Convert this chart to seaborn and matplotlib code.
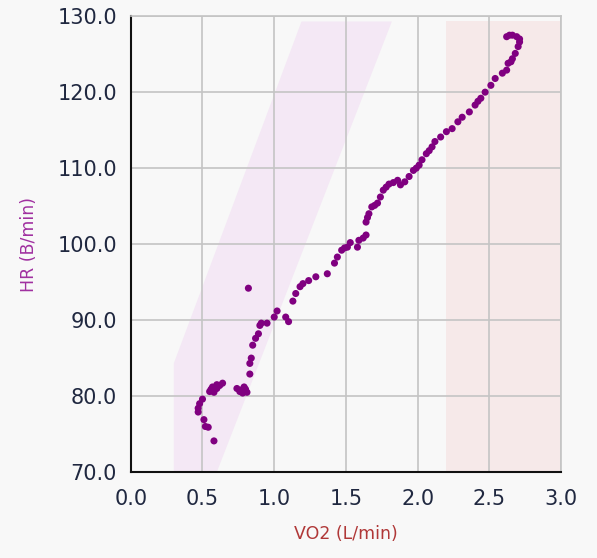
import matplotlib
matplotlib.use("Agg")
import matplotlib.pyplot as plt
import seaborn as sns
import pandas as pd

# VO2 (L/min) vs HR (B/min)
vo2 = [
    0.58, 0.54, 0.52, 0.51, 0.47, 0.47, 0.48, 0.50,
    0.55, 0.57, 0.58, 0.60, 0.62, 0.56, 0.60, 0.64,
    0.74, 0.76, 0.78, 0.80, 0.81, 0.79, 0.77,
    0.83, 0.83, 0.84, 0.85, 0.87, 0.89, 0.90, 0.91, 0.95,
    0.82,
    1.00, 1.02, 1.08, 1.10, 1.13, 1.15,
    1.18, 1.20, 1.24, 1.29, 1.37, 1.42, 1.44, 1.47, 1.49, 1.51, 1.53,
    1.58, 1.59, 1.62, 1.64, 1.64, 1.65, 1.66, 1.68, 1.70, 1.72, 1.74, 1.76, 1.78, 1.80,
    1.83, 1.86, 1.88, 1.91, 1.94, 1.97, 1.99, 2.01,
    2.03, 2.06, 2.08, 2.10, 2.12, 2.16, 2.20, 2.24, 2.28, 2.31, 2.36,
    2.40, 2.42, 2.44, 2.47, 2.51, 2.54, 2.59, 2.62, 2.63, 2.65, 2.66, 2.68,
    2.70, 2.71, 2.71, 2.69, 2.66, 2.64, 2.62,
]
hr = [
    74.1, 75.9, 76.0, 76.9, 77.9, 78.4, 79.0, 79.6,
    80.6, 81.2, 80.5, 81.0, 81.4, 80.9, 81.5, 81.7,
    81.0, 80.6, 80.4, 80.9, 80.5, 81.2, 80.8,
    82.9, 84.3, 85.0, 86.7, 87.6, 88.2, 89.3, 89.6, 89.6,
    94.2,
    90.4, 91.2, 90.4, 89.8, 92.5, 93.5,
    94.4, 94.8, 95.2, 95.7, 96.1, 97.5, 98.3, 99.2, 99.5, 99.6, 100.2,
    99.6, 100.5, 100.8, 101.2, 102.9, 103.5, 104.0, 104.9, 105.1, 105.4, 106.2, 107.1, 107.5, 107.9,
    108.1, 108.4, 107.8, 108.2, 108.9, 109.7, 110.0, 110.4,
    111.1, 111.9, 112.3, 112.8, 113.5, 114.1, 114.8, 115.2, 116.1, 116.7, 117.4,
    118.3, 118.8, 119.2, 120.0, 120.9, 121.8, 122.5, 122.9, 123.8, 124.0, 124.4, 125.1,
    126.0, 126.6, 127.0, 127.3, 127.5, 127.5, 127.3,
]

# shaded zones
zone1_x = [0.30, 0.30, 1.19, 1.82, 0.60]
zone1_y = [70.0, 84.3, 129.3, 129.3, 70.0]
zone2_x = [2.20, 3.00]
zone2_top = 129.4

df = pd.DataFrame({"VO2": vo2, "HR": hr})

bg = "#f8f8f8"
grid_col = "#c4c4c4"
sns.set_style("whitegrid", {"axes.facecolor": bg, "figure.facecolor": bg,
                            "grid.color": grid_col, "axes.edgecolor": grid_col})
plt.rcParams["font.family"] = ["DejaVu Sans"]

fig = plt.figure(figsize=(5.97, 5.58), dpi=100)
ax = fig.add_axes([0.219, 0.154, 0.721, 0.817])

ax.fill(zone1_x, zone1_y, color="#f4e8f5", lw=0, zorder=0)
ax.fill_between(zone2_x, 70, zone2_top, color="#f6e9e9", lw=0, zorder=0)

sns.scatterplot(data=df, x="VO2", y="HR", ax=ax, color="#800080",
                s=26, edgecolor="none", zorder=3)

ax.set_xlim(0, 3.0)
ax.set_ylim(70, 130)
ax.set_xticks([0, 0.5, 1.0, 1.5, 2.0, 2.5, 3.0])
ax.set_yticks([70, 80, 90, 100, 110, 120, 130])
ax.set_xticklabels([f"{v:.1f}" for v in ax.get_xticks()])
ax.set_yticklabels([f"{v:.1f}" for v in ax.get_yticks()])
ax.grid(True, color=grid_col, lw=1.2)
ax.set_axisbelow(True)

for side in ["left", "bottom"]:
    ax.spines[side].set_color("#111111")
    ax.spines[side].set_linewidth(1.5)
for side in ["top", "right"]:
    ax.spines[side].set_color(grid_col)
    ax.spines[side].set_linewidth(1.2)

ax.tick_params(axis="both", colors=grid_col, labelcolor="#202840",
               labelsize=15, length=4, width=1, direction="out")
ax.tick_params(axis="x", pad=8)
ax.tick_params(axis="y", pad=6)

ax.set_xlabel("VO2 (L/min)", color="#b03838", fontsize=12.5, labelpad=12)
ax.set_ylabel("HR (B/min)", color="#a030a0", fontsize=12.5, labelpad=14)

plt.savefig("out.png", dpi=100, facecolor=bg)
